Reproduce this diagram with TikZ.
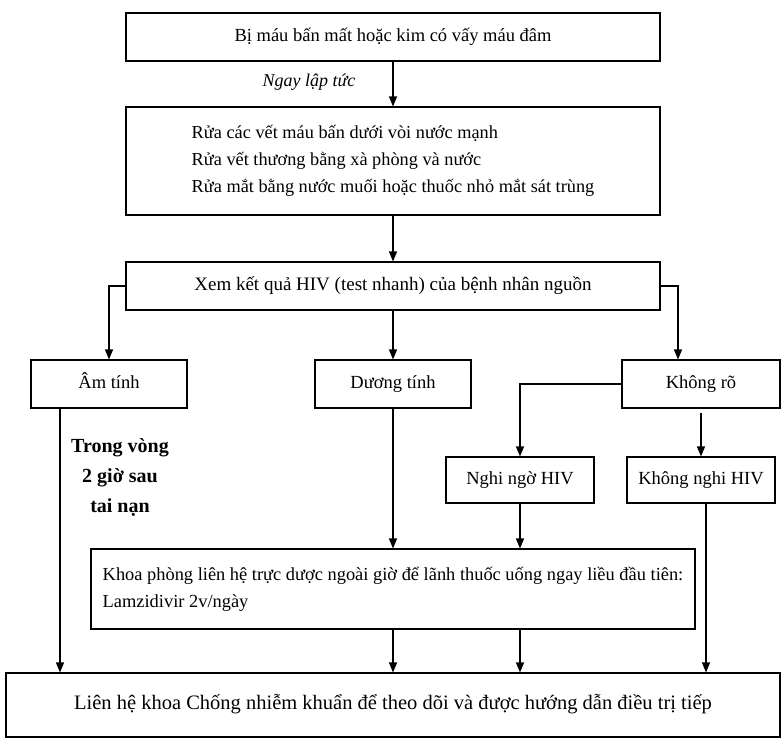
\documentclass[tikz,border=0pt]{standalone}
\usepackage{fontspec}
\setmainfont{Liberation Serif}
\usetikzlibrary{arrows.meta}

\begin{document}
\begin{tikzpicture}[x=1pt, y=-1pt,
    box/.style={draw, line width=1.1pt, rectangle, minimum height=48pt, inner sep=0pt, text height=13pt, text depth=4pt, align=center, font=\fontsize{18.5}{27}\selectfont},
    arr/.style={-{Triangle[length=10pt, width=8pt]}, line width=1.2pt}]
    \useasboundingbox (0,0) rectangle (783,742);

    % Nodes
    \node[box, minimum width=534pt] (hit) at (393,37) {Bị máu bấn mất hoặc kim có vấy máu đâm};

    \node[font=\fontsize{18}{22}\selectfont\itshape] (now) at (309,82) {Ngay lập tức};

    \node[box, minimum width=534pt, minimum height=108pt, text height=, text depth=, align=left, font=\fontsize{18.3}{27}\selectfont] (wash) at (393,161) {Rửa các vết máu bấn dưới vòi nước mạnh\\Rửa vết thương bằng xà phòng và nước\\Rửa mắt bằng nước muối hoặc thuốc nhỏ mắt sát trùng};

    \node[box, minimum width=534pt, font=\fontsize{19}{27}\selectfont] (test) at (393,286) {Xem kết quả HIV (test nhanh) của bệnh nhân nguồn};

    \node[box, minimum width=156pt] (neg) at (109,384) {Âm tính};
    \node[box, minimum width=156pt] (pos) at (393,384) {Dương tính};
    \node[box, minimum width=158pt] (unk) at (701,384) {Không rõ};

    \node[box, minimum width=148pt, minimum height=46pt] (susp) at (520,480) {Nghi ngờ HIV};
    \node[box, minimum width=148pt, minimum height=46pt] (nosusp) at (701,480) {Không nghi HIV};

    \node[font=\fontsize{20}{30}\selectfont\bfseries, align=center] (within) at (120,478) {Trong vòng\\2 giờ sau\\tai nạn};

    \node[box, minimum width=604pt, minimum height=80pt, text height=, text depth=, align=left, font=\fontsize{18.4}{27}\selectfont] (drug) at (393,589) {Khoa phòng liên hệ trực dược ngoài giờ để lãnh thuốc uống ngay liều đầu tiên:\\Lamzidivir 2v/ngày};

    \node[box, minimum width=774pt, minimum height=64pt, font=\fontsize{20.5}{27}\selectfont] (report) at (393,705) {Liên hệ khoa Chống nhiễm khuẩn để theo dõi và được hướng dẫn điều trị tiếp};

    % Arrows
    \draw[arr] (hit) -- (wash);
    \draw[arr] (wash) -- (test);
    \draw[arr] (test.west) -| (neg.north);
    \draw[arr] (test) -- (pos);
    \draw[arr] (test.east) -| ([xshift=-23pt]unk.north);
    \draw[arr] (unk.west) -| (susp.north);
    \draw[arr, shorten <=4pt] (unk) -- (nosusp);

    \draw[arr] ([xshift=-49pt]neg.south) -- ([xshift=-49pt]neg.south |- report.north);
    \draw[arr] (pos) -- (drug);
    \draw[arr] (susp.south) -- (susp.south |- drug.north);
    \draw[arr] ([xshift=5pt]nosusp.south) -- ([xshift=5pt]nosusp.south |- report.north);

    \draw[arr] (drug) -- (report);
    \draw[arr] (susp.south |- drug.south) -- (susp.south |- report.north);
\end{tikzpicture}
\end{document}
